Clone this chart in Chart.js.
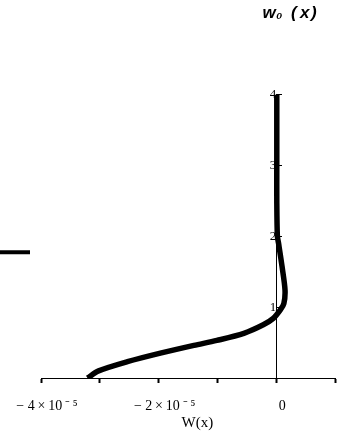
<!DOCTYPE html>
<html>
<head>
<meta charset="utf-8">
<style>
  html, body { margin: 0; padding: 0; background: #fff; }
  #wrap { width: 337px; height: 439px; }
</style>
<script src="https://cdn.jsdelivr.net/npm/chart.js@4/dist/chart.umd.min.js"></script>
</head>
<body>
<div id="wrap"><canvas id="c" width="337" height="439"></canvas></div>
<script>
// Curve w0(x): horizontal value W(x) against height x
const heightX = [0, 0.10, 0.23, 0.35, 0.46, 0.53, 0.63, 0.75, 0.84, 0.96, 1.05, 1.24, 1.57, 1.90, 2.0, 2.5, 3.0, 3.5, 4.0];
const wValues = [-3.21e-5, -3.02e-5, -2.53e-5, -1.97e-5, -1.40e-5, -1.01e-5, -0.55e-5, -0.22e-5, -0.05e-5, 0.07e-5, 0.13e-5, 0.15e-5, 0.10e-5, 0.04e-5, 0.02e-5, 0.01e-5, 0.01e-5, 0.01e-5, 0.01e-5];
const xTickLabels = {
  '-4': '\u2212 4\u2009\u00d7\u200910\u2009\u207b\u2009\u2075',
  '-2': '\u2212 2\u2009\u00d7\u200910\u2009\u207b\u2009\u2075',
  '0': '0'
};
const yTickLabels = { '1': '1', '2': '2', '3': '3', '4': '4' };
const titleText = 'w\u2080\u2002(\u2009x\u200a)\u2003\u200a';
const xAxisTitle = '     W(x)';

const points = heightX.map((h, i) => ({ x: wValues[i], y: h }));

new Chart(document.getElementById('c'), {
  type: 'scatter',
  data: {
    datasets: [{
      label: '',
      data: points,
      showLine: true,
      borderColor: '#000',
      backgroundColor: '#000',
      borderWidth: 5.5,
      borderCapStyle: 'butt',
      tension: 0.3,
      pointRadius: 0,
      pointHoverRadius: 0
    }]
  },
  options: {
    responsive: false,
    animation: false,
    events: [],
    layout: { padding: { left: 0, right: 2, top: 0, bottom: 0 } },
    plugins: {
      tooltip: { enabled: false },
      title: {
        display: true,
        text: titleText,
        align: 'end',
        color: '#000',
        font: { family: 'Liberation Sans', size: 17, style: 'italic' },
        padding: { top: 3.5, bottom: 70.5 }
      },
      legend: {
        display: true,
        position: 'left',
        fullSize: false,
        align: 'center',
        title: { display: true, text: ' ', padding: 10, font: { size: 12, lineHeight: 1 } },
        labels: {
          boxWidth: 30,
          boxHeight: 4,
          padding: 0,
          font: { size: 2, lineHeight: 1 },
          generateLabels: () => [{ text: '', fillStyle: '#000', strokeStyle: '#000', lineWidth: 0, hidden: false, datasetIndex: 0 }]
        }
      }
    },
    scales: {
      x: {
        type: 'linear',
        position: 'bottom',
        min: -4e-5,
        max: 1e-5,
        afterFit: (s) => { s.height = 61; s.paddingLeft = 0; s.paddingRight = 0; },
        grid: { drawOnChartArea: false, tickLength: 5, tickWidth: 2, tickColor: '#000' },
        border: { color: '#000', width: 1 },
        ticks: {
          stepSize: 1e-5,
          autoSkip: false,
          maxRotation: 0,
          padding: 15,
          labelOffset: 6,
          color: '#000',
          font: { family: 'Liberation Serif', size: 14 },
          callback: (v) => xTickLabels[String(Math.round(v * 1e5))] || ''
        },
        title: {
          display: true,
          text: xAxisTitle,
          color: '#000',
          font: { family: 'Liberation Serif', size: 15 },
          padding: { top: 2, bottom: 7 }
        }
      },
      y: {
        type: 'linear',
        position: { x: 0 },
        min: 0,
        max: 4,
        afterFit: (s) => { s.paddingTop = 0; s.paddingBottom = 0; },
        grid: {
          drawOnChartArea: false,
          tickLength: -6,
          tickWidth: 1,
          tickColor: (ctx) => (ctx.tick && ctx.tick.value === 0 ? 'rgba(0,0,0,0)' : '#000')
        },
        border: { color: '#000', width: 1 },
        ticks: {
          stepSize: 1,
          padding: 0,
          color: '#000',
          font: { family: 'Liberation Serif', size: 13 },
          callback: (v) => yTickLabels[String(Math.round(v))] || ''
        }
      }
    }
  }
});
</script>
</body>
</html>
